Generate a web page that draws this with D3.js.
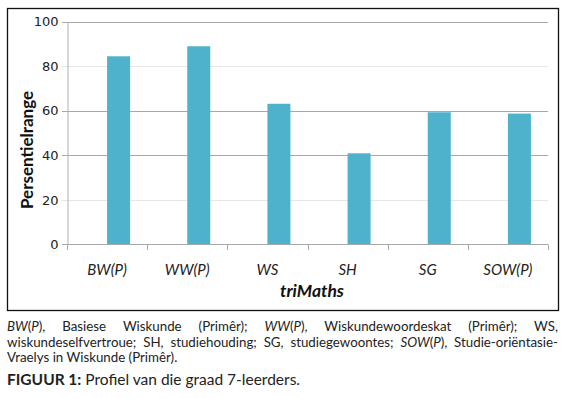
<!DOCTYPE html>
<html>
<head>
  <meta charset="UTF-8">
  <title>Figuur 1</title>
  <style>
    body { margin: 0; background: #fff; }
    #wrap { position: relative; width: 566px; height: 398px; }
    .cap { position: absolute; left: 7px; width: 551px; font-family: Lato, sans-serif; font-size: 13.3px; color: #222; }
    .cap div { height: 15.5px; line-height: 15.5px; white-space: nowrap; }
    .cap .j { text-align: justify; text-align-last: justify; }
    .fig { position: absolute; left: 7px; top: 370px; font-family: Lato, sans-serif; font-size: 15.5px; line-height: 18.6px; color: #222; }
  </style>
</head>
<body>
  <div id="wrap"></div>

  <script src="https://cdn.jsdelivr.net/npm/d3@7"></script>
  <script>
    const categories = ['BW(P)', 'WW(P)', 'WS', 'SH', 'SG', 'SOW(P)']
    const values = [84.4, 88.9, 63.1, 40.9, 59.3, 58.7]
    const yTicks = [0, 20, 40, 60, 80, 100]
    const darkGrid = [100, 60, 40]

    const width = 566,
      height = 398

    const wrap = d3.select('#wrap')
    const svg = wrap.append('svg')
      .attr('width', width)
      .attr('height', height)
      .style('position', 'absolute')
      .style('left', 0)
      .style('top', 0)

    // frame round the chart
    svg.append('rect')
      .attr('x', 7.5).attr('y', 8.5)
      .attr('width', 551).attr('height', 302)
      .attr('fill', 'none')
      .attr('stroke', '#111')
      .attr('stroke-width', 1.3)

    const x = d3.scaleBand()
      .domain(categories)
      .range([67, 548])

    const y = d3.scaleLinear()
      .domain([0, 100])
      .range([244.5, 21.5])

    // grid lines
    svg.append('g')
      .selectAll('line')
      .data(yTicks.filter(d => d > 0))
      .enter().append('line')
      .attr('x1', 62).attr('x2', 548)
      .attr('y1', d => Math.round(y(d)) + 0.5)
      .attr('y2', d => Math.round(y(d)) + 0.5)
      .attr('stroke', d => darkGrid.includes(d) ? '#a8a8a8' : '#e6e6e6')

    // y axis
    const yAxis = d3.axisLeft(y)
      .tickValues(yTicks)
      .tickSize(0)
      .tickPadding(9)

    svg.append('g')
      .attr('transform', 'translate(67.5,0)')
      .call(yAxis)
      .call(g => g.select('.domain').attr('stroke', '#b0b0b0'))
      .call(g => g.selectAll('text')
        .attr('font-family', 'DejaVu Sans')
        .attr('font-size', 13)
        .attr('fill', '#222'))

    // bars (drawn as the second slot of the band, as in the source)
    const barW = 23
    svg.append('g')
      .selectAll('rect')
      .data(values)
      .enter().append('rect')
      .attr('x', (d, i) => x(categories[i]) + x.bandwidth() / 2)
      .attr('y', d => y(d))
      .attr('width', barW)
      .attr('height', d => y(0) - y(d))
      .attr('fill', '#4fb2cc')

    // x axis
    svg.append('line')
      .attr('x1', 62).attr('x2', 548)
      .attr('y1', 244.5).attr('y2', 244.5)
      .attr('stroke', '#a8a8a8')

    svg.append('g')
      .selectAll('line')
      .data(categories.concat(['end']))
      .enter().append('line')
      .attr('x1', (d, i) => Math.round(67 + i * x.step()) + 0.5)
      .attr('x2', (d, i) => Math.round(67 + i * x.step()) + 0.5)
      .attr('y1', 244.5).attr('y2', 250)
      .attr('stroke', '#a8a8a8')

    svg.append('g')
      .selectAll('text')
      .data(categories)
      .enter().append('text')
      .attr('x', d => x(d) + x.bandwidth() / 2)
      .attr('y', 275)
      .attr('text-anchor', 'middle')
      .attr('font-family', 'Lato')
      .attr('font-style', 'italic')
      .attr('font-size', 15)
      .attr('fill', '#222')
      .text(d => d)

    // axis titles
    svg.append('text')
      .attr('x', 312).attr('y', 297)
      .attr('text-anchor', 'middle')
      .attr('font-family', 'Lato')
      .attr('font-weight', 'bold')
      .attr('font-style', 'italic')
      .attr('font-size', 17.5)
      .attr('fill', '#111')
      .text('triMaths')

    svg.append('text')
      .attr('transform', 'translate(33,150) rotate(-90)')
      .attr('text-anchor', 'middle')
      .attr('font-family', 'Lato')
      .attr('font-weight', 'bold')
      .attr('font-size', 17)
      .attr('fill', '#111')
      .text('Persentielrange')

    // caption below the frame
    const capLines = [
      ['j', '<i>BW</i>(<i>P</i>), Basiese Wiskunde (Primêr); <i>WW</i>(<i>P</i>), Wiskundewoordeskat (Primêr); WS,'],
      ['j', 'wiskundeselfvertroue; SH, studiehouding; SG, studiegewoontes; <i>SOW</i>(<i>P</i>), Studie-oriëntasie-'],
      ['', 'Vraelys in Wiskunde (Primêr).']
    ]

    const cap = wrap.append('div')
      .attr('class', 'cap')
      .style('top', '319px')

    cap.selectAll('div')
      .data(capLines)
      .enter().append('div')
      .attr('class', d => d[0])
      .html(d => d[1])

    wrap.append('div')
      .attr('class', 'fig')
      .html('<b>FIGUUR 1:</b> Profiel van die graad 7-leerders.')
  </script>
</body>
</html>
